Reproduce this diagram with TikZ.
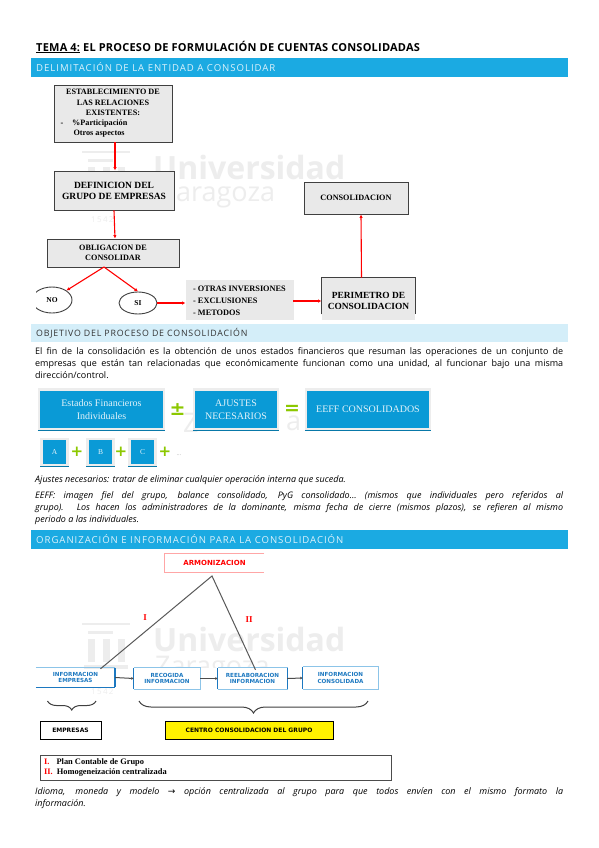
\documentclass[tikz,border=0pt]{standalone}
\usepackage{fontspec}
\setmainfont{Open Sans}
\newfontfamily\boxfont{Liberation Serif}
\newfontfamily\symfont{DejaVu Sans}
\usetikzlibrary{arrows.meta,decorations.pathreplacing,shapes.geometric}
\definecolor{bandblue}{HTML}{1BAAE2}
\definecolor{bandpale}{HTML}{D4EEF9}
\definecolor{boxgrey}{HTML}{E9E9E9}
\definecolor{tileblue}{HTML}{0A9AD6}
\definecolor{tiledark}{HTML}{0878A8}
\definecolor{plusgreen}{HTML}{8CC800}
\definecolor{infoblue}{HTML}{1C78C0}
\definecolor{infopale}{HTML}{8CC4E8}
\definecolor{markgrey}{HTML}{EDEDED}
\newcommand{\fullline}[1]{\makebox[528pt][s]{#1}}
\tikzset{
  band/.style={anchor=west, inner sep=0pt, font=\fontsize{9.6}{11}\selectfont\addfontfeatures{LetterSpace=10}},
  greybox/.style={draw=black!75, line width=.9pt, fill=boxgrey, inner sep=0pt, align=center, font=\boxfont\bfseries\fontsize{8.2}{10.3}\selectfont},
  redarrow/.style={draw=red, line width=1.1pt, -{Latex[length=3.5pt,width=3.5pt]}},
  tile/.style={draw=black!7, line width=2.2pt, fill=tileblue, inner sep=0pt, align=center, text=white!88!tileblue, font=\boxfont\fontsize{10}{12.5}\selectfont},
  smalltile/.style={tile, font=\boxfont\fontsize{7.5}{8}\selectfont, minimum width=26pt, minimum height=26pt},
  plussign/.style={text=plusgreen, inner sep=0pt, font=\symfont\bfseries\fontsize{15}{15}\selectfont},
  infobox/.style={inner sep=0pt, align=center, text=infoblue, font=\symfont\bfseries\fontsize{5.6}{6.8}\selectfont},
  darkarrow/.style={draw=black!70, line width=1pt, -{Latex[length=2.5pt,width=3pt]}},
  plainbox/.style={draw=black, line width=.9pt, inner sep=0pt, font=\symfont\bfseries\fontsize{6}{7}\selectfont},
  bodytext/.style={anchor=north west, inner sep=0pt, align=left, font=\fontsize{9}{12}\selectfont},
  watermark/.style={text=markgrey, inner sep=0pt, anchor=west, font=\bfseries},
}
\begin{document}
\begin{tikzpicture}[x=1pt, y=-1pt]
  \useasboundingbox (0,0) rectangle (599,848);
  \fill[white] (0,0) rectangle (599,848);
  % marca de agua
  \node[watermark, font=\bfseries\fontsize{32}{32}\selectfont] (markau) at (153,167) {Universidad};
  \node[watermark, font=\fontsize{27}{27}\selectfont] (markaz) at (176,197) {aragoza};
  \node[watermark, font=\fontsize{8}{8}\selectfont] (markay) at (91,220) {1\,5\,4\,2};
  \node[watermark, font=\fontsize{27}{27}\selectfont] (markbz) at (183,423) {Z};
  \node[watermark, font=\fontsize{27}{27}\selectfont] (markba) at (286,423) {a};
  \node[watermark, font=\bfseries\fontsize{32}{32}\selectfont] (markcu) at (153,639) {Universidad};
  \begin{scope}
    \clip (140,650) rectangle (300,667);
    \node[watermark, font=\fontsize{27}{27}\selectfont] (markcz) at (155,669) {Zaragoza};
  \end{scope}
  \node[watermark, font=\fontsize{8}{8}\selectfont] (markcy) at (91,692) {1\,5\,4\,2};
  \foreach \wy in {0, 472} {
    \fill[markgrey] (82,151+\wy) rectangle (130,153+\wy);
    \fill[markgrey] (88,159+\wy) rectangle (113,162+\wy);
    \fill[markgrey] (88,167+\wy) rectangle (95,190+\wy);
    \fill[markgrey] (103,167+\wy) rectangle (110,190+\wy);
    \fill[markgrey] (118,167+\wy) rectangle (125,190+\wy);
    \fill[markgrey] (84,193+\wy) rectangle (128,197+\wy);
  }

  % titulo
  \node[anchor=west, inner sep=0pt, font=\bfseries\fontsize{11}{12}\selectfont\addfontfeatures{LetterSpace=2}] (titulo) at (36,47)
    {\underline{TEMA 4:} EL PROCESO DE FORMULACIÓN DE CUENTAS CONSOLIDADAS};

  % bandas
  \fill[bandblue] (31,58) rectangle (568,77);
  \fill[bandpale] (31,324) rectangle (568,342);
  \fill[bandblue] (31,530) rectangle (568,549);
  \node[band, text=white!85!bandblue] (banda) at (36,67.5) {DELIMITACIÓN DE LA ENTIDAD A CONSOLIDAR};
  \node[band, text=black!80, font=\fontsize{8.8}{11}\selectfont\addfontfeatures{LetterSpace=9}] (bandb) at (36,333) {OBJETIVO DEL PROCESO DE CONSOLIDACIÓN};
  \node[band, text=white!85!bandblue] (bandc) at (36,539.5) {ORGANIZACIÓN E INFORMACIÓN PARA LA CONSOLIDACIÓN};

  % primer esquema
  \begin{scope}
    \clip (36,80) rectangle (568,319);
    \node[greybox, minimum width=118pt, minimum height=57pt] (relaciones) at (113,113.5)
      {ESTABLECIMIENTO DE\\LAS RELACIONES\\EXISTENTES:\\
       \makebox[105pt][l]{-\hspace{9pt}\%Participación}\\\makebox[105pt][l]{\hspace{13pt}Otros aspectos}};
    \node[greybox, minimum width=120pt, minimum height=39pt, font=\boxfont\bfseries\fontsize{9.5}{11}\selectfont] (grupo) at (114,190.5)
      {DEFINICION DEL\\GRUPO DE EMPRESAS};
    \node[greybox, minimum width=132pt, minimum height=28pt] (obligacion) at (113,253)
      {OBLIGACION DE\\CONSOLIDAR};
    \node[draw=black!75, line width=.9pt, ellipse, inner sep=0pt, minimum width=40pt, minimum height=26pt, font=\boxfont\bfseries\fontsize{7.5}{8}\selectfont] (no) at (52,300) {NO};
    \node[draw=black!75, line width=.9pt, ellipse, inner sep=0pt, minimum width=38pt, minimum height=22pt, font=\boxfont\bfseries\fontsize{7.5}{8}\selectfont] (si) at (138,303) {SI};
    \node[greybox, draw=boxgrey, minimum width=107pt, minimum height=42pt, align=left, font=\boxfont\bfseries\fontsize{8.3}{12}\selectfont] (otras) at (239.5,301)
      {- OTRAS INVERSIONES\\- EXCLUSIONES\\- METODOS};
    \node[greybox, draw=none, minimum width=93pt, minimum height=46pt, font=\boxfont\bfseries\fontsize{9.4}{11}\selectfont] (perimetro) at (368.5,301)
      {PERIMETRO DE\\CONSOLIDACION};
    \draw[black!75, line width=1.1pt] ([yshift=10pt]perimetro.south west) -- (perimetro.north west) -- (perimetro.north east) -- ([yshift=10pt]perimetro.south east);
    \node[greybox, minimum width=104pt, minimum height=32pt] (consolidacion) at (356,198) {CONSOLIDACION};
    \coordinate (salida) at (104,267);
    \draw[redarrow] ([xshift=2pt]relaciones.south) -- ([xshift=1pt]grupo.north);
    \draw[redarrow] (grupo.south) -- ([xshift=2pt]obligacion.north);
    \draw[redarrow] (salida) -- (no.north east);
    \draw[redarrow] (salida) -- (si.north);
    \draw[redarrow] (si.east) -- (si.east -| otras.west);
    \draw[redarrow] (otras.east) -- (perimetro.west);
    \draw[redarrow] ([xshift=-7pt]perimetro.north) -- ([xshift=5pt]consolidacion.south);
  \end{scope}

  % objetivo
  \node[bodytext] (fin) at (35,347)
    {\fullline{El fin de la consolidación es la obtención de unos estados financieros que resuman las operaciones de un conjunto de}\\
     \fullline{empresas que están tan relacionadas que económicamente funcionan como una unidad, al funcionar bajo una misma}\\
     dirección/control.};
  \node[tile, minimum width=125pt, minimum height=40pt] (individuales) at (101.5,409.5) {Estados Financieros\\Individuales};
  \node[tile, minimum width=84pt, minimum height=40pt] (ajustes) at (236,409.5) {AJUSTES\\NECESARIOS};
  \node[tile, minimum width=124pt, minimum height=40pt] (eeff) at (368,409.5) {EEFF CONSOLIDADOS};
  \node[plussign, font=\symfont\bfseries\fontsize{19}{19}\selectfont] (masmenos) at (177.5,409.5) {±};
  \node[plussign, font=\symfont\bfseries\fontsize{19}{19}\selectfont] (igual) at (292,409.5) {=};
  \node[smalltile] (a) at (54.5,452) {A};
  \node[smalltile] (b) at (100.5,452) {B};
  \node[smalltile] (c) at (142.5,452) {C};
  \node[plussign] (masa) at (77,452) {+};
  \node[plussign] (masb) at (121,452) {+};
  \node[plussign] (masc) at (165,452) {+};
  \node[inner sep=0pt, text=black!30, font=\fontsize{6}{6}\selectfont] (puntos) at (179,455) {...};
  \foreach \n in {individuales, ajustes, eeff, a, b, c}
    \draw[tiledark, line width=1pt] (\n.south west) -- (\n.south east);
  \node[bodytext, font=\itshape\fontsize{9}{12}\selectfont] (ajtexto) at (35,475)
    {Ajustes necesarios: tratar de eliminar cualquier operación interna que suceda.};
  \node[bodytext, font=\itshape\fontsize{9}{12}\selectfont] (eefftexto) at (35,491)
    {\fullline{EEFF: imagen fiel del grupo, balance consolidado, PyG consolidado… (mismos que individuales pero referidos al}\\
     \fullline{grupo). Los hacen los administradores de la dominante, misma fecha de cierre (mismos plazos), se refieren al mismo}\\
     periodo a las individuales.};

  % organizacion
  \node[inner sep=0pt, minimum width=99pt, minimum height=18pt, text=red, font=\symfont\bfseries\fontsize{7}{8}\selectfont] (armonizacion) at (214.5,563) {ARMONIZACION};
  \draw[red!35, line width=.8pt] (armonizacion.north east) -- (armonizacion.north west) -- (armonizacion.south west) -- (armonizacion.south east);
  \node[infobox, minimum width=79pt, minimum height=19pt] (empresas) at (75.5,677.5) {INFORMACION\\EMPRESAS};
  \node[infobox, minimum width=66pt, minimum height=21pt] (recogida) at (167,678.5) {RECOGIDA\\INFORMACION};
  \node[infobox, minimum width=69pt, minimum height=21pt] (reelaboracion) at (252.5,678.5) {REELABORACION\\INFORMACION};
  \node[infobox, minimum width=75pt, minimum height=22pt] (informacion) at (340.5,678) {INFORMACION\\CONSOLIDADA};
  \draw[infopale, line width=.8pt] (empresas.north west) -- (empresas.north east);
  \draw[infoblue, line width=.8pt] (empresas.south west) -- (empresas.south east);
  \draw[infoblue, line width=1.6pt] (empresas.north east) -- (empresas.south east);
  \foreach \n in {recogida, reelaboracion, informacion} {
    \draw[infopale, line width=.8pt] (\n.south west) -- (\n.south east) -- (\n.north east) -- (\n.north west);
    \draw[infoblue, line width=.8pt] (\n.north west) -- (\n.south west);
  }
  \draw[infoblue, line width=1.4pt] (reelaboracion.north east) -- (reelaboracion.south east);
  \draw[darkarrow] (empresas.east) -- (recogida.west);
  \draw[darkarrow] (recogida.east) -- (reelaboracion.west);
  \draw[darkarrow] (reelaboracion.east) -- (informacion.west);

  \coordinate (cima) at (212,576);
  \draw[black!65, line width=1pt] ([xshift=25pt,yshift=-1pt]empresas.north) -- (cima) -- ([xshift=3pt,yshift=-2pt]reelaboracion.north);
  \node[inner sep=0pt, text=red, font=\boxfont\bfseries\fontsize{9}{9}\selectfont] (uno) at (145,618) {I};
  \node[inner sep=0pt, text=red, font=\boxfont\bfseries\fontsize{9}{9}\selectfont] (dos) at (249,620) {II};

  \coordinate (llavea) at (47.5,701); \coordinate (llaveb) at (96,701);
  \coordinate (llavec) at (139,701); \coordinate (llaved) at (368,701);
  \draw[black!75, line width=1pt, decorate, decoration={brace, mirror, amplitude=9pt}] (llavea) -- (llaveb);
  \draw[black!75, line width=1pt, decorate, decoration={brace, mirror, amplitude=12pt}] (llavec) -- (llaved);

  \node[plainbox, minimum width=61pt, minimum height=18pt] (empresasb) at (70.5,730) {EMPRESAS};
  \node[plainbox, fill=yellow, minimum width=168pt, minimum height=18pt] (centro) at (249,730) {CENTRO CONSOLIDACION DEL GRUPO};

  \node[draw=black!70, line width=1pt, inner sep=0pt, minimum width=351pt, minimum height=25pt] (plan) at (215.5,767.5) {};
  \node[anchor=west, inner sep=0pt, align=left, font=\boxfont\bfseries\fontsize{8.4}{10}\selectfont] (plantexto) at (44,767.5)
    {\textcolor{red}{I.}\hspace{7pt}Plan Contable de Grupo\\\textcolor{red}{II.}\hspace{4pt}Homogeneización centralizada};

  \node[bodytext, font=\itshape\fontsize{9}{12}\selectfont] (idioma) at (35,787)
    {\fullline{Idioma, moneda y modelo {\symfont →} opción centralizada al grupo para que todos envíen con el mismo formato la}\\
     información.};
\end{tikzpicture}
\end{document}
